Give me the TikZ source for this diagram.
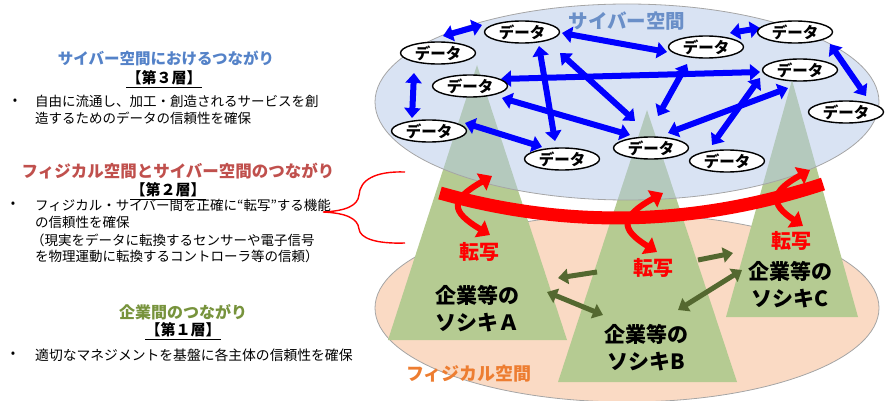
\documentclass[tikz,border=0pt]{standalone}
\usepackage{fontspec}
\newfontfamily\jp{Noto Sans CJK JP}
\usetikzlibrary{arrows.meta,shapes.geometric}
\definecolor{cyberfill}{RGB}{180,200,232}
\definecolor{physfill}{RGB}{250,218,196}
\definecolor{trifill}{RGB}{181,203,146}
\definecolor{edgegray}{RGB}{165,165,165}
\definecolor{darrow}{RGB}{0,0,255}
\definecolor{garrow}{RGB}{84,104,48}
\definecolor{tred}{RGB}{255,0,0}
\definecolor{hblue}{RGB}{84,130,200}
\definecolor{hred}{RGB}{192,80,77}
\definecolor{hgreen}{RGB}{119,147,60}
\definecolor{lblue}{RGB}{106,143,200}
\definecolor{lorange}{RGB}{237,125,49}
\begin{document}
\begin{tikzpicture}[x=1pt,y=-1pt,
  dnode/.style={ellipse, draw=black, line width=1.4pt, fill=white, minimum width=75pt, minimum height=22pt, inner sep=0pt, font=\jp\bfseries\fontsize{15.5}{16}\selectfont},
  barrow/.style={draw=darrow, line width=6pt, {Triangle[length=10pt,width=16pt]}-{Triangle[length=10pt,width=16pt]}},
  gsingle/.style={draw=garrow, line width=5pt, -{Triangle[length=10pt,width=15pt]}},
  gdouble/.style={draw=garrow, line width=5pt, {Triangle[length=10pt,width=15pt]}-{Triangle[length=10pt,width=15pt]}},
  rarc/.style={draw=tred, line width=13pt},
  rcurve/.style={draw=tred, line width=6pt, {Triangle[length=12pt,width=19pt]}-{Triangle[length=12pt,width=19pt]}},
  tenlabel/.style={text=tred, inner sep=0pt, font=\jp\bfseries\fontsize{20}{20}\selectfont},
  orglabel/.style={text=black, inner sep=0pt, align=center, font=\jp\bfseries\fontsize{21}{27}\selectfont},
  head/.style={inner sep=0pt, font=\jp\bfseries\fontsize{16}{16}\selectfont},
  layer/.style={inner sep=0pt, font=\jp\bfseries\fontsize{15}{15}\selectfont},
  body/.style={inner sep=0pt, anchor=west, font=\jp\fontsize{13.5}{14}\selectfont},
  bul/.style={inner sep=0pt, font=\jp\fontsize{13}{14}\selectfont},
  brace/.style={draw=tred, line width=1.4pt}
]
\useasboundingbox (0,0) rectangle (886,401);

% physical space
\draw[draw=edgegray, line width=0.8pt, fill=physfill] (627,308) ellipse [x radius=252pt, y radius=94pt];
% organisations
\fill[trifill] (388,340) -- (567,340) -- (477,65) -- cycle;
\fill[trifill] (558,382) -- (737,382) -- (647,110) -- cycle;
\fill[trifill] (726,317) -- (858,317) -- (792,80) -- cycle;
% cyber space
\draw[draw=edgegray, line width=0.8pt, fill=cyberfill, fill opacity=0.5] (627,102) ellipse [x radius=252pt, y radius=98pt];

\node[inner sep=0pt, text=lblue, font=\jp\bfseries\fontsize{19.5}{20}\selectfont] (cyl) at (627,21) {サイバー空間};
\node[inner sep=0pt, text=lorange, font=\jp\bfseries\fontsize{18}{18}\selectfont] (phl) at (469,374) {フィジカル空間};

% arrow end points
\coordinate (a1) at (443,36);  \coordinate (a2) at (482,25);
\coordinate (b1) at (562,33);  \coordinate (b2) at (667,52);
\coordinate (c1) at (730,33);  \coordinate (c2) at (760,28);
\coordinate (d1) at (830,44);  \coordinate (d2) at (866,96);
\coordinate (e1) at (539,46);  \coordinate (e2) at (555,141);
\coordinate (f1) at (501,79);  \coordinate (f2) at (760,72);
\coordinate (g1) at (414,73);  \coordinate (g2) at (412,118);
\coordinate (h1) at (465,123); \coordinate (h2) at (542,147);
\coordinate (i1) at (502,98);  \coordinate (i2) at (630,135);
\coordinate (j1) at (560,53);  \coordinate (j2) at (635,121);
\coordinate (k1) at (687,64);  \coordinate (k2) at (658,116);
\coordinate (l1) at (760,78);  \coordinate (l2) at (712,145);
\coordinate (m1) at (788,88);  \coordinate (m2) at (668,133);

\draw[barrow] (a1) -- (a2);
\draw[barrow] (b1) -- (b2);
\draw[barrow] (c1) -- (c2);
\draw[barrow] (d1) -- (d2);
\draw[barrow] (e1) -- (e2);
\draw[barrow] (f1) -- (f2);
\draw[barrow] (g1) -- (g2);
\draw[barrow] (h1) -- (h2);
\draw[barrow] (i1) -- (i2);
\draw[barrow] (j1) -- (j2);
\draw[barrow] (k1) -- (k2);
\draw[barrow] (l1) -- (l2);
\draw[barrow] (m1) -- (m2);

% data nodes
\node[dnode] (n1) at (522,32) {データ};
\node[dnode] (n2) at (438,53) {データ};
\node[dnode] (n3) at (470,86) {データ};
\node[dnode] (n4) at (429,131) {データ};
\node[dnode] (n5) at (562,159) {データ};
\node[dnode] (n6) at (651,148) {データ};
\node[dnode] (n7) at (727,161) {データ};
\node[dnode] (n8) at (706,47) {データ};
\node[dnode] (n9) at (795,32) {データ};
\node[dnode] (n10) at (800,70) {データ};
\node[dnode] (n11) at (846,112) {データ};

% red transfer band
\draw[rarc] (440,193) .. controls (567,229) and (695,226) .. (823,184);
\draw[rcurve] (492,176) .. controls (450,200) and (450,211) .. (490,235);
\draw[rcurve] (663,193) .. controls (620,217) and (620,229) .. (657,252);
\draw[rcurve] (810,170) .. controls (770,192) and (770,204) .. (803,226);

\node[tenlabel] (tA) at (479,252) {転写};
\node[tenlabel] (tB) at (653,268) {転写};
\node[tenlabel] (tC) at (791,241) {転写};

% organisation labels
\node[orglabel] (oA) at (477,309) {企業等の\\ソシキＡ};
\node[orglabel] (oB) at (646,348) {企業等の\\ソシキB};
\node[orglabel] (oC) at (790,285) {企業等の\\ソシキC};

% green arrows between organisations
\coordinate (p1) at (597,272); \coordinate (p2) at (558,278);
\coordinate (q1) at (547,292); \coordinate (q2) at (603,315);
\coordinate (r1) at (698,260); \coordinate (r2) at (733,253);
\coordinate (s1) at (678,310); \coordinate (s2) at (742,270);
\draw[gsingle] (p1) -- (p2);
\draw[gdouble] (q1) -- (q2);
\draw[gsingle] (r1) -- (r2);
\draw[gdouble] (s1) -- (s2);

% brace
\draw[brace] (405,172) .. controls (375,171) and (360,180) .. (359,195) .. controls (358,206) and (345,211) .. (323,212) .. controls (345,213) and (358,218) .. (359,229) .. controls (360,238) and (375,244) .. (405,243);

% left texts: layer 3
\node[head, text=hblue, font=\jp\bfseries\fontsize{15.5}{16}\selectfont] (h3t) at (166,58) {サイバー空間におけるつながり};
\node[layer] (L3) at (164,78) {【第３層】};
\draw[line width=1.2pt] ([yshift=-2pt]L3.south west) -- ([yshift=-2pt]L3.south east);
\node[bul] (u3) at (15,102) {•};
\node[body] (t3a) at (35,101) {自由に流通し、加工・創造されるサービスを創};
\node[body] (t3b) at (35,118) {造するためのデータの信頼性を確保};

% layer 2
\node[head, text=hred, font=\jp\bfseries\fontsize{16.5}{17}\selectfont] (h2t) at (178,171) {フィジカル空間とサイバー空間のつながり};
\node[layer] (L2) at (168,190) {【第２層】};
\draw[line width=1.2pt] ([yshift=-2pt]L2.south west) -- ([yshift=-2pt]L2.south east);
\node[bul] (u2) at (13,205) {•};
\node[body] (t2a) at (35,205) {フィジカル・サイバー間を正確に“転写”する機能};
\node[body] (t2b) at (35,222) {の信頼性を確保};
\node[body] (t2c) at (31,240) {（現実をデータに転換するセンサーや電子信号};
\node[body] (t2d) at (35,256) {を物理運動に転換するコントローラ等の信頼）};

% layer 1
\node[head, text=hgreen] (h1t) at (183,312) {企業間のつながり};
\node[layer] (L1) at (183,330) {【第１層】};
\draw[line width=1.2pt] ([yshift=-2pt]L1.south west) -- ([yshift=-2pt]L1.south east);
\node[bul] (u1) at (13,355) {•};
\node[body, font=\jp\fontsize{13.8}{14}\selectfont] (t1a) at (35,355) {適切なマネジメントを基盤に各主体の信頼性を確保};
\end{tikzpicture}
\end{document}
